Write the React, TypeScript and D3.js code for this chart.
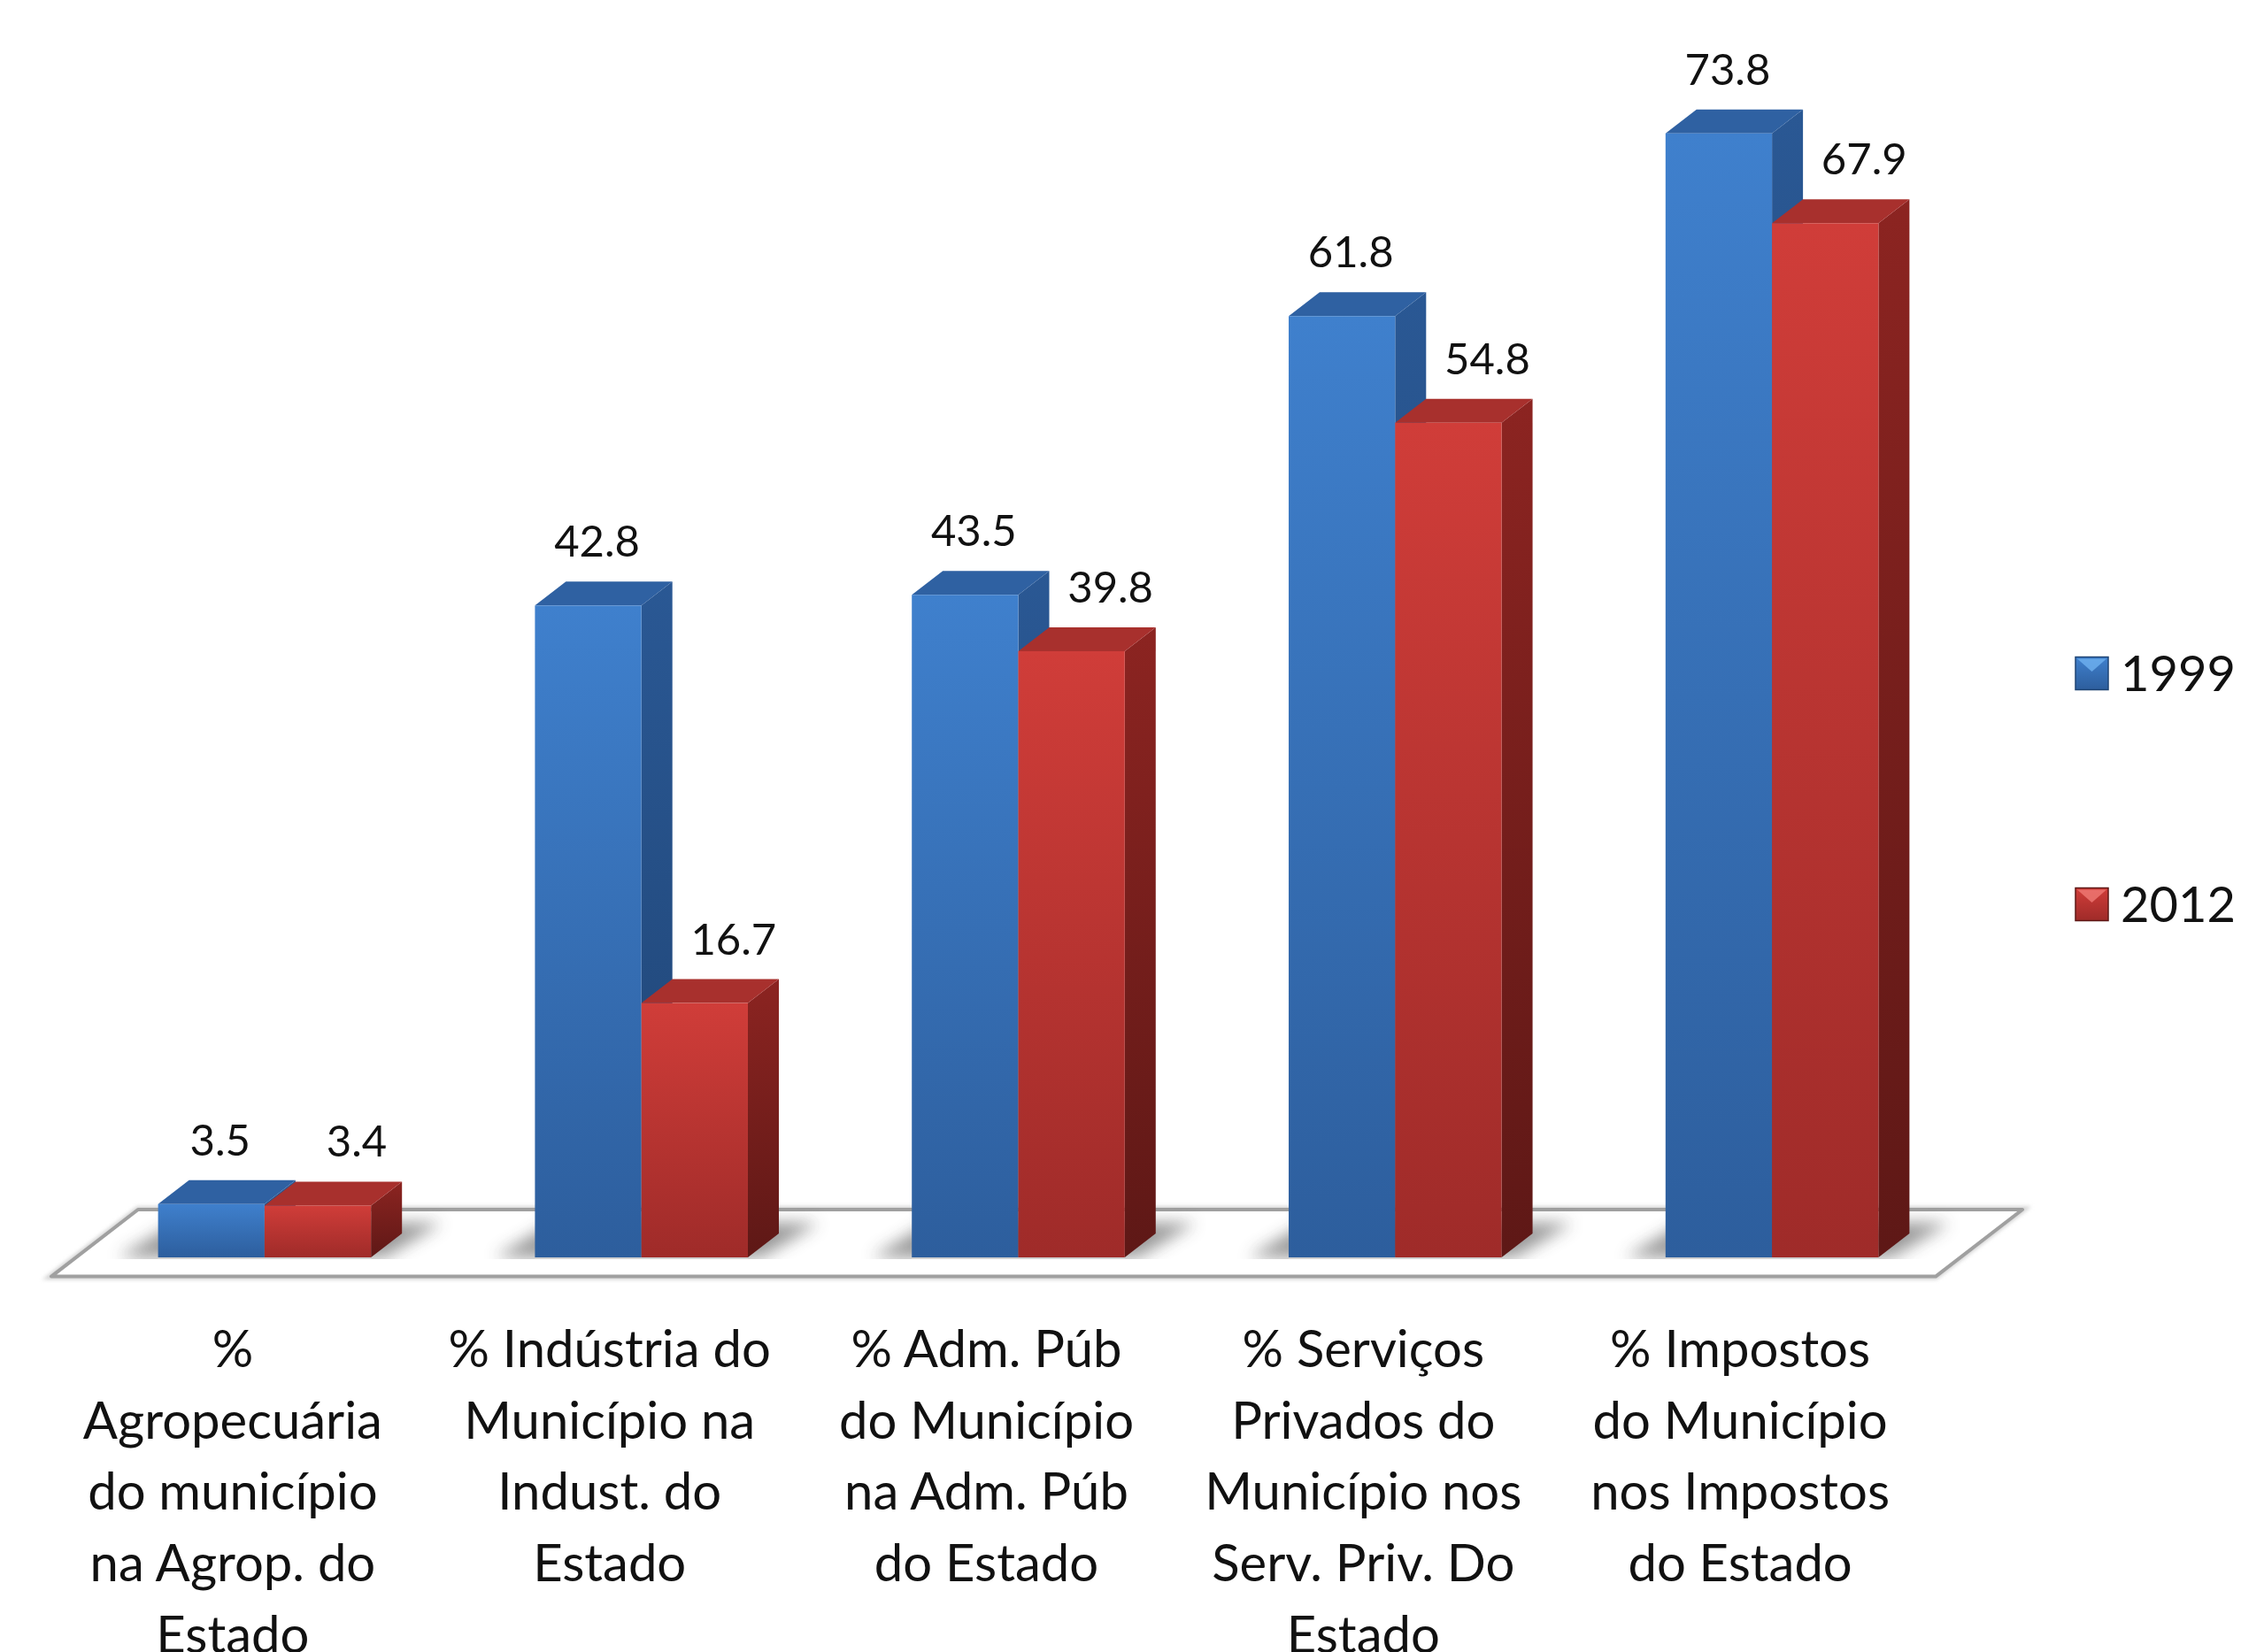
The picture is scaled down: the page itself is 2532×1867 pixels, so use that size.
import React from "react";
import * as d3 from "d3";

// categorias (eixo x), quebradas em linhas como no original
const categories = ["agro", "industria", "adm", "servicos", "impostos"];
const categoryLines = [
  ["%", "Agropecuária", "do município", "na Agrop. do", "Estado"],
  ["% Indústria do", "Município na", "Indust. do", "Estado"],
  ["% Adm. Púb", "do Município", "na Adm. Púb", "do Estado"],
  ["% Serviços", "Privados do", "Município nos", "Serv. Priv. Do", "Estado"],
  ["% Impostos", "do Município", "nos Impostos", "do Estado"],
];
const seriesNames = ["1999", "2012"];
const values1999 = [3.5, 42.8, 43.5, 61.8, 73.8];
const values2012 = [3.4, 16.7, 39.8, 54.8, 67.9];

const W = 2532;
const H = 1867;
const DX = 35; // profundidade 3D
const DY = 27;
const FONT = "Lato, 'Open Sans', sans-serif";

const palette = [
  { front: ["#3f80cd", "#2d5e9d"], side: ["#2a5894", "#1f4474"], top: "#2f61a2", light: "#6fb1f0" },
  { front: ["#d03d39", "#9f2b29"], side: ["#8c2421", "#5e1816"], top: "#a8302d", light: "#f07a76" },
];
const labelShift = [10, 44];

export default function App() {
  const x0 = d3
    .scaleBand<string>()
    .domain(categories)
    .range([86, 2215])
    .paddingInner(0.435)
    .paddingOuter(0.2175);
  const x1 = d3.scaleBand<string>().domain(seriesNames).range([0, x0.bandwidth()]);
  const y = d3.scaleLinear().domain([0, 80]).range([1421, 44]);
  const fmt = d3.format(".1f");

  const data = categories.map((c, i) => ({
    cat: c,
    vals: [values1999[i], values2012[i]],
  }));

  const yb = y(0);
  const [r0, r1] = x0.range();
  const floor = [
    [r0 - 0.8 * DX, yb + 0.8 * DY],
    [r1 - 0.8 * DX, yb + 0.8 * DY],
    [r1 + 2 * DX, yb - 2 * DY],
    [r0 + 2 * DX, yb - 2 * DY],
  ];
  const floorPts = floor.map((p) => p.join(",")).join(" ");

  return (
    <svg
      width={W}
      height={H}
      style={{ position: "absolute", left: 0, top: 0, background: "white" }}
    >
      <defs>
        {palette.map((p, j) => (
          <React.Fragment key={j}>
            <linearGradient id={`front${j}`} x1="0" y1="0" x2="0" y2="1">
              <stop offset="0" stopColor={p.front[0]} />
              <stop offset="1" stopColor={p.front[1]} />
            </linearGradient>
            <linearGradient id={`side${j}`} x1="0" y1="0" x2="0" y2="1">
              <stop offset="0" stopColor={p.side[0]} />
              <stop offset="1" stopColor={p.side[1]} />
            </linearGradient>
          </React.Fragment>
        ))}
        <filter id="blur" x="-20%" y="-100%" width="140%" height="300%">
          <feGaussianBlur stdDeviation="9" />
        </filter>
        <filter id="soft" x="-5%" y="-50%" width="110%" height="200%">
          <feGaussianBlur stdDeviation="2" />
        </filter>
        <clipPath id="floorClip">
          <rect x={0} y={0} width={W} height={yb + 2} />
        </clipPath>
      </defs>

      {/* piso */}
      <polygon points={floorPts} fill="none" stroke="#d0d0d0" strokeWidth={7} filter="url(#soft)" />
      <polygon points={floorPts} fill="white" stroke="#a0a0a0" strokeWidth={4} strokeLinejoin="round" />

      {/* sombras no piso */}
      <g clipPath="url(#floorClip)">
        {data.map((d) => {
          const xl = x0(d.cat)!;
          const xr = xl + x0.bandwidth();
          return (
            <polygon
              key={"sh" + d.cat}
              points={`${xl - 45},${yb} ${xr + 15},${yb} ${xr + DX + 45},${yb - DY - 12} ${xl + DX - 15},${yb - DY - 12}`}
              fill="#444"
              opacity={0.55}
              filter="url(#blur)"
            />
          );
        })}
      </g>

      {/* barras */}
      {data.map((d) => (
        <g key={d.cat}>
          {d.vals.map((v, j) => {
            const xl = x0(d.cat)! + x1(seriesNames[j])!;
            const xr = xl + x1.bandwidth();
            const yt = y(v);
            const p = palette[j];
            return (
              <g key={j}>
                <polygon
                  points={`${xr},${yt} ${xr + DX},${yt - DY} ${xr + DX},${yb - DY} ${xr},${yb}`}
                  fill={`url(#side${j})`}
                />
                <polygon
                  points={`${xl},${yt} ${xl + DX},${yt - DY} ${xr + DX},${yt - DY} ${xr},${yt}`}
                  fill={p.top}
                />
                <rect x={xl} y={yt} width={xr - xl} height={yb - yt} fill={`url(#front${j})`} />
              </g>
            );
          })}
        </g>
      ))}

      {/* rótulos de valor */}
      {data.map((d) =>
        d.vals.map((v, j) => {
          const xl = x0(d.cat)! + x1(seriesNames[j])!;
          return (
            <text
              key={d.cat + j}
              x={xl + x1.bandwidth() / 2 + labelShift[j]}
              y={y(v) - 55}
              textAnchor="middle"
              fontFamily={FONT}
              fontSize={49}
              fill="#111"
            >
              {fmt(v)}
            </text>
          );
        })
      )}

      {/* rótulos de categoria */}
      {data.map((d, i) => (
        <text
          key={"c" + d.cat}
          textAnchor="middle"
          fontFamily={FONT}
          fontSize={58}
          fill="#111"
        >
          {categoryLines[i].map((line, k) => (
            <tspan key={k} x={x0(d.cat)! + x0.bandwidth() / 2 - 36} y={1545 + k * 80.7}>
              {line}
            </tspan>
          ))}
        </text>
      ))}

      {/* legenda */}
      {seriesNames.map((s, j) => {
        const cy = 761 + j * 261;
        const sz = 37;
        const lx = 2345;
        const p = palette[j];
        return (
          <g key={s}>
            <rect x={lx} y={cy - sz / 2} width={sz} height={sz} fill={`url(#front${j})`} stroke={p.side[1]} strokeWidth={1.5} />
            <polygon
              points={`${lx + 2},${cy - sz / 2 + 2} ${lx + sz - 2},${cy - sz / 2 + 2} ${lx + sz / 2},${cy - 2}`}
              fill={p.light}
              opacity={0.8}
            />
            <text x={2396} y={cy + 20} fontFamily={FONT} fontSize={56} fill="#111">
              {s}
            </text>
          </g>
        );
      })}
    </svg>
  );
}
